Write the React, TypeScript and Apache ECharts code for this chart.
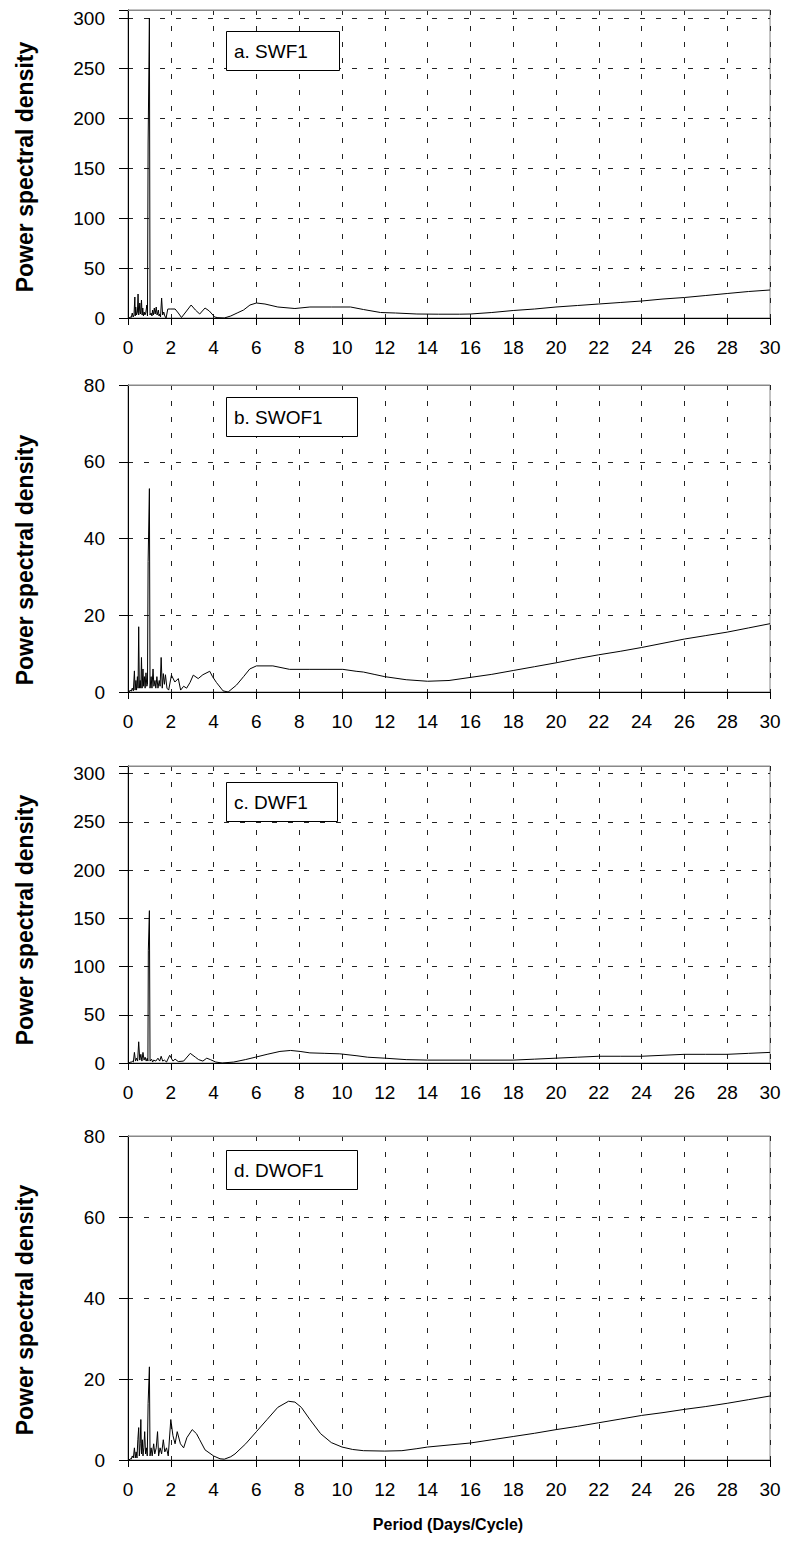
import React, { useEffect, useRef } from "react";
import * as echarts from "echarts";

const FONT = "'Liberation Sans', Arial, sans-serif";

const xTicks = { min: 0, max: 30, interval: 2 };

const labelsPanels = ["a. SWF1", "b. SWOF1", "c. DWF1", "d. DWOF1"];
const yTitle = "Power spectral density";
const xTitle = "Period (Days/Cycle)";

const psdSWF1: [number, number][] = [
  [0.05, 0], [0.1, 1], [0.15, 0.5], [0.2, 5], [0.24, 1], [0.28, 3], [0.32, 21], [0.34, 2], [0.36, 11], [0.4, 3],
  [0.44, 6], [0.47, 24], [0.5, 3], [0.53, 8], [0.55, 15], [0.58, 4], [0.6, 6], [0.63, 18], [0.66, 3], [0.69, 10],
  [0.72, 2], [0.76, 6], [0.79, 3], [0.83, 5], [0.88, 13], [0.91, 2], [0.94, 175], [1.0, 300], [1.03, 3], [1.08, 5],
  [1.12, 2], [1.15, 8], [1.19, 3], [1.23, 10], [1.27, 4], [1.32, 11], [1.36, 3], [1.42, 8], [1.45, 2], [1.48, 4],
  [1.52, 1], [1.57, 20], [1.62, 3], [1.67, 6], [1.72, 2], [1.78, 0], [1.86, 9], [2.0, 9], [2.2, 9], [2.35, 5],
  [2.5, 0.5], [2.7, 6], [2.95, 13], [3.15, 8], [3.35, 4], [3.6, 10], [3.8, 7], [4.05, 1], [4.2, 0.3], [4.5, 0],
  [4.8, 2], [5.1, 5], [5.4, 8], [5.7, 13], [6.0, 15], [6.4, 14], [7.0, 11], [7.8, 9.5], [8.5, 11], [9.5, 11],
  [10.4, 11], [11, 8.5], [11.8, 5.5], [12.5, 5], [13.5, 4], [14.5, 3.8], [15.5, 3.8], [16, 4], [17, 5.5], [18, 7.5],
  [19, 9], [20, 11], [21, 12.5], [22, 14], [23, 15.5], [24, 17], [25, 19], [26, 20.5], [27, 22.5], [28, 24.5],
  [29, 26.5], [30, 28],
];

const psdSWOF1: [number, number][] = [
  [0.05, 0], [0.1, 0.5], [0.15, 0.2], [0.2, 1], [0.25, 0.3], [0.3, 5.5], [0.33, 0.5], [0.37, 3], [0.4, 0.5], [0.44, 4],
  [0.47, 1], [0.5, 17], [0.53, 1], [0.57, 3], [0.6, 1], [0.63, 9], [0.66, 1], [0.7, 6], [0.73, 1.5], [0.77, 4],
  [0.8, 1], [0.84, 5], [0.88, 1.5], [0.91, 2], [0.94, 34], [1.0, 53], [1.03, 1], [1.08, 4], [1.12, 1], [1.17, 6],
  [1.21, 1.5], [1.26, 3], [1.3, 1], [1.35, 4], [1.4, 1], [1.46, 3], [1.5, 1.5], [1.55, 9], [1.6, 1], [1.65, 4.8],
  [1.7, 2], [1.75, 4.5], [1.82, 1], [1.9, 0.5], [2.03, 4.4], [2.19, 2.6], [2.35, 3.5], [2.46, 0.5], [2.6, 1.5], [2.74, 1],
  [2.9, 2.5], [3.05, 4.4], [3.28, 3.5], [3.5, 4.5], [3.82, 5.4], [3.95, 4], [4.13, 2.5], [4.44, 0.3], [4.68, 0], [5.07, 1.8],
  [5.4, 4], [5.69, 6], [6.0, 6.8], [6.77, 6.8], [7.55, 5.9], [8.5, 5.9], [9.3, 5.9], [10.04, 5.9], [10.66, 5.4], [11, 5.2],
  [11.5, 4.6], [12, 4], [13, 3.2], [14, 2.8], [15, 3], [16, 3.8], [17, 4.6], [18, 5.6], [19, 6.6], [20, 7.6],
  [21, 8.7], [22, 9.7], [23, 10.6], [24, 11.6], [25, 12.7], [26, 13.8], [27, 14.7], [28, 15.6], [29, 16.7], [30, 17.8],
];

const psdDWF1: [number, number][] = [
  [0.05, 0], [0.1, 1], [0.15, 0.5], [0.2, 2], [0.25, 1], [0.3, 11], [0.35, 2], [0.4, 5], [0.45, 2], [0.5, 22],
  [0.55, 3], [0.6, 9], [0.65, 2], [0.7, 11], [0.75, 3], [0.8, 6], [0.85, 2], [0.9, 5], [0.93, 2], [0.95, 117],
  [1.0, 158], [1.03, 2], [1.1, 4], [1.15, 1], [1.2, 3], [1.3, 2], [1.4, 5], [1.48, 2], [1.55, 7], [1.62, 2],
  [1.7, 3], [1.8, 1], [1.95, 8], [2.1, 2], [2.2, 4], [2.35, 1.5], [2.6, 2], [2.91, 10], [3.15, 6], [3.3, 3.5],
  [3.5, 2], [3.68, 5], [3.85, 3.5], [4.1, 1], [4.4, 0], [4.94, 1], [5.48, 3.5], [5.95, 6], [6.5, 9], [7.1, 12],
  [7.6, 13], [8.04, 12], [8.5, 10.5], [9.2, 10], [9.9, 9.5], [10.7, 7.5], [11.2, 6], [12, 5], [13, 3.5], [14, 3],
  [16, 3], [18, 3], [19, 4], [20, 5], [21, 6], [22, 7], [23, 7], [24, 7], [25, 8], [26, 9],
  [27, 9], [28, 9], [29, 10], [30, 11],
];

const psdDWOF1: [number, number][] = [
  [0.05, 0], [0.1, 0.3], [0.15, 0.2], [0.2, 1], [0.25, 0.5], [0.3, 3], [0.34, 0.5], [0.38, 2], [0.42, 0.5], [0.46, 5],
  [0.5, 8], [0.53, 1], [0.57, 4], [0.6, 10], [0.63, 1.5], [0.67, 5], [0.7, 1], [0.74, 3], [0.78, 7], [0.82, 1.5],
  [0.86, 3], [0.9, 1], [0.94, 14], [1.0, 23], [1.03, 1], [1.08, 3], [1.13, 1], [1.2, 4], [1.25, 1.5], [1.32, 3],
  [1.38, 7], [1.43, 1], [1.5, 3], [1.57, 1.5], [1.65, 5], [1.72, 2], [1.8, 3], [1.88, 1], [2.0, 10], [2.1, 6],
  [2.2, 4], [2.3, 7], [2.45, 4], [2.6, 3], [2.75, 5.5], [3.0, 7.5], [3.2, 6.5], [3.35, 5], [3.6, 2.5], [4.0, 1],
  [4.3, 0.3], [4.5, 0.2], [4.8, 0.8], [5.0, 1.5], [5.5, 4], [6.0, 7], [6.5, 10], [7.0, 13], [7.5, 14.5], [7.8, 14.3],
  [8.1, 13], [8.5, 10], [9.0, 6.5], [9.5, 4.3], [10.0, 3.2], [10.5, 2.6], [11, 2.3], [12, 2.2], [12.8, 2.3], [13.5, 2.8],
  [14, 3.2], [15, 3.7], [16, 4.2], [17, 5], [18, 5.8], [19, 6.6], [20, 7.5], [21, 8.3], [22, 9.2], [23, 10.1],
  [24, 11], [25, 11.7], [26, 12.5], [27, 13.2], [28, 14], [29, 14.9], [30, 15.8],
];

const yMax = [308, 80, 308, 80];
const yLabelMax = [300, 80, 300, 80];
const yInterval = [50, 20, 50, 20];
const seriesData = [psdSWF1, psdSWOF1, psdDWF1, psdDWOF1];

// layout (pixels)
const gridTops = [10, 385, 766, 1136];
const gridHeights = [308, 307, 297, 324];
const gridLeft = 128;
const gridRight = 16;
const boxWidths = [113, 131, 111, 131];
const boxTopOffsets = [21, 12, 16, 14];
const titleCenters = [167, 560, 920, 1310];

const dashed = { type: [5, 11] as any, color: "#222", width: 1 };

export default function App() {
  const ref = useRef<HTMLDivElement>(null);
  useEffect(() => {
    const chart = echarts.init(ref.current!, null, { renderer: "svg" });
    const grids = gridTops.map((t, i) => ({
      left: gridLeft,
      right: gridRight,
      top: t,
      height: gridHeights[i],
      show: true,
      borderColor: "#888",
      borderWidth: 1,
      backgroundColor: "transparent",
    }));
    const xAxes = gridTops.map((_, i) => ({
      type: "value",
      gridIndex: i,
      min: xTicks.min,
      max: xTicks.max,
      interval: xTicks.interval,
      axisLine: { show: true, onZero: false, lineStyle: { color: "#000", width: 1 } },
      axisTick: { show: true, length: 7, lineStyle: { color: "#000" } },
      axisLabel: { show: true, color: "#000", fontSize: 19, fontFamily: FONT, margin: 20 },
      splitLine: { show: true, lineStyle: dashed },
    }));
    const yAxes = gridTops.map((_, i) => ({
      type: "value",
      gridIndex: i,
      min: 0,
      max: yMax[i],
      interval: yInterval[i],
      axisLine: { show: true, lineStyle: { color: "#000", width: 1 } },
      axisTick: { show: true, length: 9, lineStyle: { color: "#000" } },
      axisLabel: {
        show: true,
        color: "#000",
        fontSize: 19,
        fontFamily: FONT,
        margin: 23,
        formatter: (v: number) => (v % yInterval[i] === 0 && v <= yLabelMax[i] ? String(v) : ""),
      },
      splitLine: { show: true, lineStyle: dashed },
    }));
    const series = seriesData.map((d, i) => ({
      type: "line",
      xAxisIndex: i,
      yAxisIndex: i,
      data: d,
      showSymbol: false,
      symbol: "none",
      smooth: false,
      lineStyle: { color: "#000", width: 1 },
      z: 5,
    }));

    const graphic: any[] = [];
    gridTops.forEach((t, i) => {
      graphic.push({
        type: "line",
        z: 50,
        shape: { x1: gridLeft, y1: t + 0.5, x2: 786 - gridRight, y2: t + 0.5 },
        style: { stroke: "#888", lineWidth: 1 },
      });
      const by = t + boxTopOffsets[i];
      graphic.push({
        type: "rect",
        z: 60,
        shape: { x: 226.5, y: by + 0.5, width: boxWidths[i], height: 39 },
        style: { fill: "#fff", stroke: "#000", lineWidth: 1 },
      });
      graphic.push({
        type: "text",
        z: 61,
        x: 234,
        y: by + 20,
        style: {
          text: labelsPanels[i],
          fontSize: 19,
          fontFamily: FONT,
          fill: "#000",
          align: "left",
          verticalAlign: "middle",
          textAlign: "left",
          textVerticalAlign: "middle",
        },
      });
      graphic.push({
        type: "text",
        z: 61,
        x: 25,
        y: titleCenters[i],
        rotation: Math.PI / 2,
        style: {
          text: yTitle,
          fontSize: 23,
          fontWeight: "bold",
          fontFamily: FONT,
          fill: "#000",
          align: "center",
          verticalAlign: "middle",
          textAlign: "center",
          textVerticalAlign: "middle",
        },
      });
    });
    graphic.push({
      type: "text",
      z: 61,
      x: 448,
      y: 1524,
      style: {
        text: xTitle,
        fontSize: 16,
        fontWeight: "bold",
        fontFamily: FONT,
        fill: "#000",
        align: "center",
        verticalAlign: "middle",
        textAlign: "center",
        textVerticalAlign: "middle",
      },
    });

    chart.setOption({
      animation: false,
      backgroundColor: "#fff",
      grid: grids,
      xAxis: xAxes,
      yAxis: yAxes,
      series,
      graphic,
    });
    return () => chart.dispose();
  }, []);
  return (
    <div
      ref={ref}
      style={{ position: "absolute", left: 0, top: 0, width: 786, height: 1549, background: "#fff" }}
    />
  );
}
